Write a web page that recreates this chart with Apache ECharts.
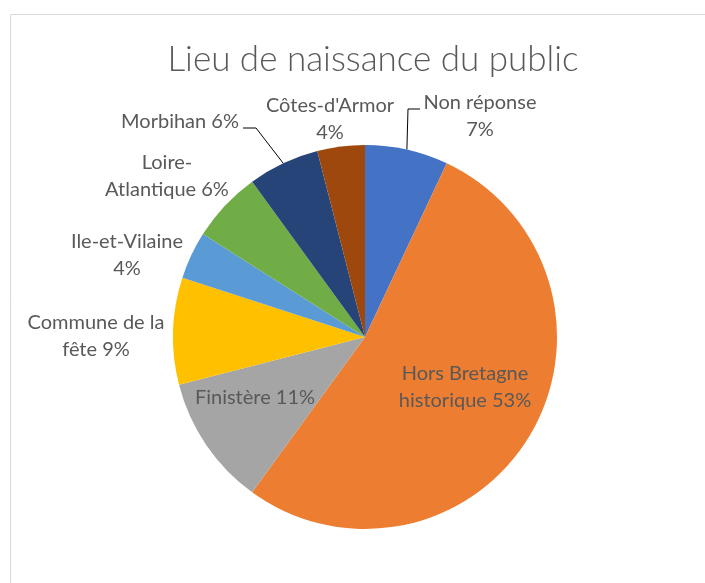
<!DOCTYPE html>
<html>
<head>
<meta charset="utf-8">
<script src="https://cdn.jsdelivr.net/npm/echarts@6/dist/echarts.min.js"></script>
<style>
  html, body { margin: 0; padding: 0; background: #fff; }
  #chart { width: 705px; height: 583px; }
</style>
</head>
<body>
<div id="chart"></div>
<script>
// Birthplace of the audience, share of respondents (%)
const categories = ['Non réponse', 'Hors Bretagne historique', 'Finistère', 'Commune de la fête',
  'Ile-et-Vilaine', 'Loire-Atlantique', 'Morbihan', "Côtes-d'Armor"];
const shares = [7, 53, 11, 9, 4, 6, 6, 4];
// label wording, with the line breaks used in the labels
const labelNames = ['Non réponse\n', 'Hors Bretagne\nhistorique ', 'Finistère ', 'Commune de la\nfête ',
  'Ile-et-Vilaine\n', 'Loire-\nAtlantique ', 'Morbihan ', "Côtes-d'Armor\n"];

const colors = ['#4472C4', '#ED7D31', '#A5A5A5', '#FFC000', '#5B9BD5', '#70AD47', '#264478', '#9E480E'];

const CX = 365, CY = 337, R = 192;
// label centres (px) and which labels carry a leader line
const labelSpots = [[480, 116], [465, 387], [255, 398], [96, 336], [127, 255], [167, 176], [180, 122], [330, 119]];
const leaderBends = { 0: [[408, 109], [420, 109]], 6: [[256, 128], [243, 128]] };

// point on the rim at the middle of slice i
function rimPoint(i) {
  const total = shares.reduce((a, b) => a + b, 0);
  let before = 0;
  for (let k = 0; k < i; k++) before += shares[k];
  const a = (before + shares[i] / 2) / total * 2 * Math.PI;
  return [CX + R * Math.sin(a), CY - R * Math.cos(a)];
}

const chart = echarts.init(document.getElementById('chart'), null, { renderer: 'canvas' });
chart.setOption({
  animation: false,
  color: colors,
  title: {
    text: 'Lieu de naissance du public',
    left: 368,
    top: 37,
    textAlign: 'center',
    textStyle: { fontFamily: 'Lato', fontWeight: 300, fontSize: 35, color: '#595959' }
  },
  graphic: [{
    type: 'rect',
    silent: true,
    shape: { x: 10.5, y: 14.5, width: 760, height: 640 },
    style: { fill: null, stroke: '#D9D9D9', lineWidth: 1 }
  }],
  series: [{
    type: 'pie',
    center: [CX, CY],
    radius: R,
    startAngle: 90,
    clockwise: true,
    avoidLabelOverlap: false,
    itemStyle: { borderWidth: 0 },
    label: {
      position: 'outside',
      fontFamily: 'Lato',
      fontSize: 20,
      lineHeight: 27,
      color: '#595959',
      formatter: p => labelNames[p.dataIndex] + Math.round(p.percent) + '%'
    },
    labelLine: { show: false, lineStyle: { color: '#000', width: 1 } },
    labelLayout: params => {
      const i = params.dataIndex;
      const s = labelSpots[i];
      const out = { x: s[0], y: s[1], align: 'center', verticalAlign: 'middle' };
      if (leaderBends[i]) out.labelLinePoints = [rimPoint(i)].concat(leaderBends[i]);
      return out;
    },
    data: categories.map((name, i) => ({
      name: name,
      value: shares[i],
      labelLine: { show: !!leaderBends[i] }
    }))
  }]
});
</script>
</body>
</html>
